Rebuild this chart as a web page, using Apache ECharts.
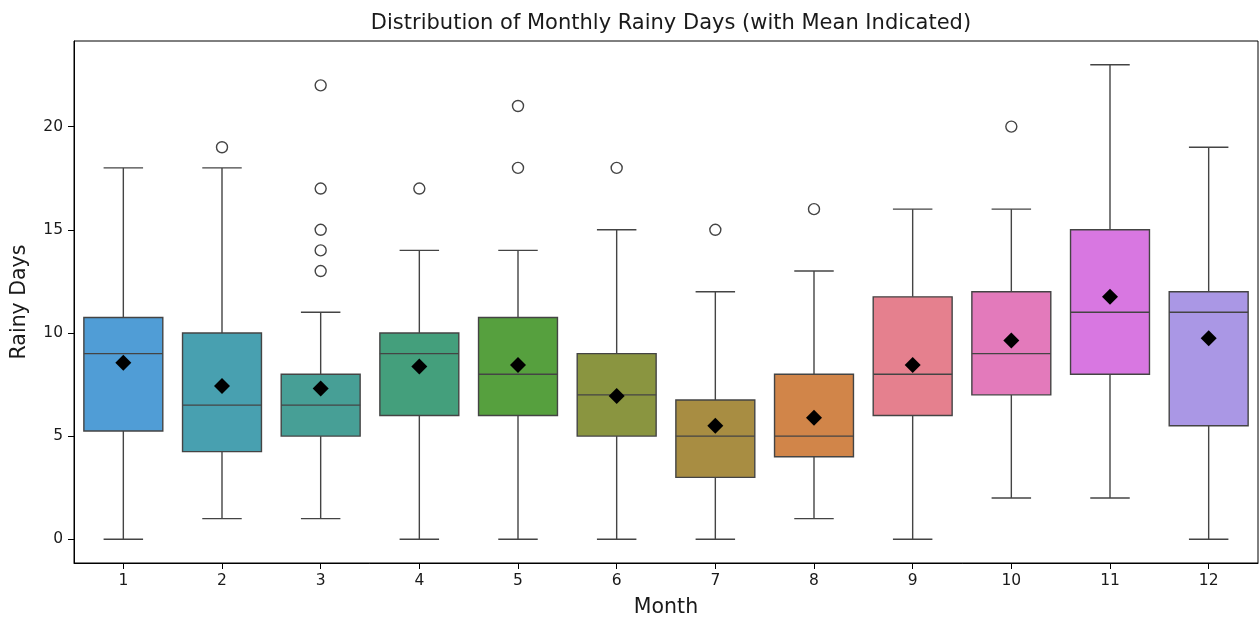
<!DOCTYPE html>
<html>
<head>
<meta charset="utf-8">
<script src="https://cdn.jsdelivr.net/npm/echarts@6/dist/echarts.min.js"></script>
<style>html,body{margin:0;padding:0;background:#fff;}#c{width:1260px;height:619px;}</style>
</head>
<body>
<div id="c"></div>
<script>
const months = ['1','2','3','4','5','6','7','8','9','10','11','12'];
const whiskerLow = [0, 1, 1, 0, 0, 0, 0, 1, 0, 2, 2, 0];
const q1 = [5.25, 4.25, 5, 6, 6, 5, 3, 4, 6, 7, 8, 5.5];
const median = [9, 6.5, 6.5, 9, 8, 7, 5, 5, 8, 9, 11, 11];
const q3 = [10.75, 10, 8, 10, 10.75, 9, 6.75, 8, 11.75, 12, 15, 12];
const whiskerHigh = [18, 18, 11, 14, 14, 15, 12, 13, 16, 16, 23, 19];
const means = [8.56, 7.43, 7.31, 8.37, 8.45, 6.94, 5.5, 5.89, 8.45, 9.63, 11.76, 9.74];
const outliers = [[], [19], [13, 14, 15, 17, 22], [17], [18, 21], [18], [15], [16], [], [20], [], []];
const colors = ['#509dd6','#48a0b0','#479f96','#449f7c','#56a03e','#8a9540','#a88d42','#d18549','#e5808e','#e37abb','#d877e1','#aa97e5'];
const yTicks = [0, 5, 10, 15, 20];

const boxData = months.map((m, i) => [i, whiskerLow[i], q1[i], median[i], q3[i], whiskerHigh[i]]);
const outlierData = [];
outliers.forEach((arr, i) => arr.forEach(v => outlierData.push([i, v])));
const meanData = means.map((v, i) => [i, v]);

const edge = '#444444';
function renderBox(params, api) {
  const i = api.value(0);
  const band = api.size([1, 0])[0];
  const bw = band * 0.8;
  const cw = bw * 0.5;
  const pLow = api.coord([i, api.value(1)]);
  const pQ1 = api.coord([i, api.value(2)]);
  const pMed = api.coord([i, api.value(3)]);
  const pQ3 = api.coord([i, api.value(4)]);
  const pHigh = api.coord([i, api.value(5)]);
  const x = pQ1[0];
  const ls = {stroke: edge, lineWidth: 1.4, fill: null};
  return {
    type: 'group',
    children: [
      {type: 'line', shape: {x1: x, y1: pQ3[1], x2: x, y2: pHigh[1]}, style: ls},
      {type: 'line', shape: {x1: x, y1: pQ1[1], x2: x, y2: pLow[1]}, style: ls},
      {type: 'line', shape: {x1: x - cw/2, y1: pHigh[1], x2: x + cw/2, y2: pHigh[1]}, style: ls},
      {type: 'line', shape: {x1: x - cw/2, y1: pLow[1], x2: x + cw/2, y2: pLow[1]}, style: ls},
      {type: 'rect', shape: {x: x - bw/2, y: pQ3[1], width: bw, height: pQ1[1] - pQ3[1]},
        style: {fill: colors[i], stroke: edge, lineWidth: 1.4}},
      {type: 'line', shape: {x1: x - bw/2, y1: pMed[1], x2: x + bw/2, y2: pMed[1]}, style: ls}
    ]
  };
}

const chart = echarts.init(document.getElementById('c'), null, {renderer: 'canvas'});
const font = 'DejaVu Sans';
chart.setOption({
  animation: false,
  backgroundColor: '#ffffff',
  title: {
    text: 'Distribution of Monthly Rainy Days (with Mean Indicated)',
    left: 666, top: 8, textAlign: 'center',
    textStyle: {fontFamily: font, fontSize: 21, fontWeight: 'normal', color: '#1a1a1a'}
  },
  grid: {left: 74, right: 2, top: 41, bottom: 56, outerBoundsMode: 'none', containLabel: false,
    show: true, borderColor: '#000', borderWidth: 1, backgroundColor: 'transparent'},
  xAxis: {
    type: 'category', data: months, boundaryGap: true,
    name: 'Month', nameLocation: 'middle', nameGap: 34,
    nameTextStyle: {fontFamily: font, fontSize: 20.5, color: '#1a1a1a'},
    axisLine: {show: true, onZero: false, lineStyle: {color: '#000', width: 1}},
    axisTick: {show: true, alignWithLabel: true, length: 6, lineStyle: {color: '#000'}},
    axisLabel: {fontFamily: font, fontSize: 15.5, color: '#1a1a1a', margin: 10},
    splitLine: {show: false}
  },
  yAxis: {
    type: 'value', min: -1.15, max: 24.15,
    name: 'Rainy Days', nameLocation: 'middle', nameGap: 44, nameRotate: 90,
    nameTextStyle: {fontFamily: font, fontSize: 20.5, color: '#1a1a1a'},
    axisLine: {show: true, onZero: false, lineStyle: {color: '#000', width: 1}},
    axisTick: {show: true, length: 6, customValues: yTicks, lineStyle: {color: '#000'}},
    axisLabel: {fontFamily: font, fontSize: 15.5, color: '#1a1a1a', margin: 11, customValues: yTicks},
    splitLine: {show: false}
  },
  series: [
    {type: 'custom', renderItem: renderBox, data: boxData, encode: {x: 0, y: [1, 2, 3, 4, 5]}, z: 2},
    {type: 'scatter', data: outlierData, symbol: 'circle', symbolSize: 11,
      itemStyle: {color: 'transparent', borderColor: edge, borderWidth: 1.4, opacity: 1}, z: 3},
    {type: 'scatter', data: meanData, symbol: 'diamond', symbolSize: [16, 16],
      itemStyle: {color: '#000000', opacity: 1}, z: 4}
  ]
});
</script>
</body>
</html>
